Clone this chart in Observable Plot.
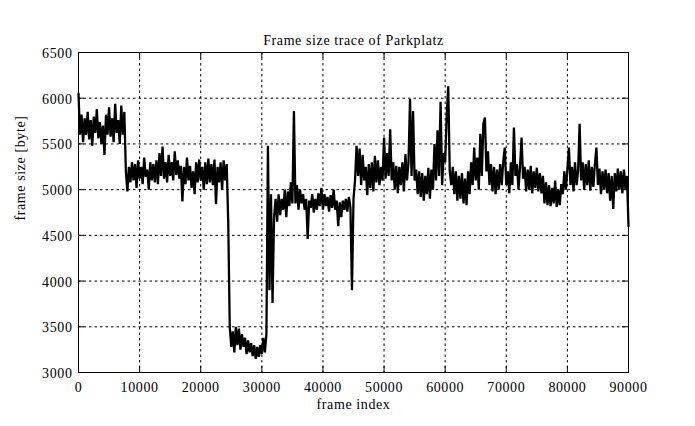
<!DOCTYPE html>
<html>
<head>
<meta charset="utf-8">
<script src="https://cdn.jsdelivr.net/npm/d3@7"></script>
<script src="https://cdn.jsdelivr.net/npm/@observablehq/plot@0.6"></script>
<style>
  html, body { margin: 0; padding: 0; background: white; }
  svg text { letter-spacing: 0.6px; }
</style>
</head>
<body>
<div id="chart"></div>
<script>
// ---- data ----
const titleText = "Frame size trace of Parkplatz";
const xLabel = "frame index";
const yLabel = "frame size [byte]";
const xTicks = [0, 10000, 20000, 30000, 40000, 50000, 60000, 70000, 80000, 90000];
const yTicks = [3000, 3500, 4000, 4500, 5000, 5500, 6000, 6500];
const frameStep = 250; // sampling step of the trace (frames)
const frameSize = [
  6050, 5600, 5820, 5520, 5780, 5600, 5850, 5550, 5760, 5480,
  5800, 5620, 5880, 5560, 5740, 5500, 5700, 5380, 5820, 5600,
  5900, 5580, 5780, 5520, 5940, 5620, 5760, 5500, 5920, 5600,
  5850, 5200, 4980, 5250, 5080, 5300, 5100, 5280, 5020, 5320,
  5120, 5250, 5060, 5350, 5140, 5220, 5000, 5300, 5100, 5280,
  5080, 5320, 5060, 5400, 5150, 5470, 5120, 5300, 5080, 5380,
  5150, 5300, 5100, 5420, 5160, 5320, 5120, 5260, 4870, 5250,
  5060, 5350, 5100, 5260, 5020, 5200, 4950, 5300, 5080, 5330,
  5100, 5250, 5000, 5300, 5060, 5340, 5080, 5280, 5050, 5330,
  4840, 5250, 5080, 5300, 5000, 5320, 5100, 5280, 4650, 3500,
  3280, 3450, 3220, 3500, 3300, 3480, 3250, 3420, 3280, 3380,
  3200, 3350, 3220, 3320, 3180, 3300, 3150, 3280, 3170, 3300,
  3200, 3380, 3220, 3420, 5480, 3900, 4950, 3760, 4700, 4900,
  4650, 4950, 4720, 4900, 4780, 5000, 4700, 4980, 4820, 5080,
  4850, 5860, 4850, 5050, 4780, 5000, 4850, 4950, 4780, 4900,
  4460, 4880, 4800, 4950, 4750, 4900, 4780, 4960, 4820, 5020,
  4780, 4950, 4820, 4920, 4760, 4940, 4800, 5000, 4780, 4880,
  4600, 4860, 4700, 4880, 4780, 4900, 4760, 4920, 4800, 3900,
  4900, 5100, 5480, 5150, 5450, 5050, 5380, 5100, 5250, 4940,
  5280, 5020, 5300, 4980, 5370, 5080, 5320, 5050, 5250, 5100,
  5570, 5120, 5400, 5150, 5660, 5100, 5300, 5000, 5260, 4960,
  5250, 5050, 5300, 4980, 5390, 5100, 5300, 5990, 5150, 5860,
  5100, 5220, 4950, 5200, 4920, 5180, 4880, 5150, 4950, 5240,
  4900, 5220, 5000, 5500, 5100, 5650, 5150, 5960, 5050, 5400,
  5300, 5800, 6130, 5200, 5050, 5250, 4950, 5200, 4880, 5150,
  4900, 5180, 4850, 5120, 4830, 5200, 4950, 5300, 5050, 5460,
  5100, 5350, 5000, 5610, 5150, 5720, 5790, 5200, 5420, 5050,
  5280, 4980, 5250, 4950, 5220, 5000, 5280, 5050, 5300, 5460,
  5050, 5200, 4960, 5300, 5050, 5680, 5150, 5280, 5000, 5250,
  5570, 5120, 5250, 4980, 5220, 5000, 5260, 4960, 5200, 5020,
  5240, 4980, 5180, 4960, 5150, 4850, 5080, 4830, 5050, 4820,
  5020, 4850, 5100, 4810, 5000, 4830, 5060, 4950, 5200, 5000,
  5220, 5460, 5050, 5250, 4980, 5300, 5050, 5200, 5720, 5100,
  5300, 5000, 5280, 5050, 5320, 4990, 5250, 5030, 5280, 5460,
  5050, 5230, 4950, 5200, 5000, 5220, 4960, 5180, 4880, 5150,
  4790, 5180, 4980, 5230, 5000, 5200, 4960, 5220, 5000, 5150,
  4600
];

// ---- table for the library ----
const trace = frameSize.map((v, i) => ({frame: i * frameStep, size: v}));

const FONT = "'Liberation Serif', 'DejaVu Serif', serif";

const chart = Plot.plot({
  width: 695,
  height: 426,
  marginLeft: 78,
  marginRight: 67,
  marginTop: 52,
  marginBottom: 54,
  style: {fontFamily: FONT, fontSize: "14px", background: "white", color: "black"},
  x: {domain: [0, 90000]},
  y: {domain: [3000, 6500]},
  marks: [
    // dotted grid
    Plot.gridX(xTicks.slice(1, -1), {stroke: "black", strokeOpacity: 1, strokeWidth: 1, strokeDasharray: "2.5,3"}),
    Plot.gridY(yTicks.slice(1, -1), {stroke: "black", strokeOpacity: 1, strokeWidth: 1, strokeDasharray: "2.5,3"}),
    // inward tick marks on all four sides
    Plot.tickX(xTicks, {x: d => d, stroke: "black", insetTop: 314}),
    Plot.tickX(xTicks, {x: d => d, stroke: "black", insetBottom: 314}),
    Plot.tickY(yTicks, {y: d => d, stroke: "black", insetRight: 544}),
    Plot.tickY(yTicks, {y: d => d, stroke: "black", insetLeft: 544}),
    // tick labels
    Plot.axisX(xTicks, {anchor: "bottom", tickSize: 0, tickPadding: 10, label: null, fontSize: 14, tickFormat: d => String(d)}),
    Plot.axisY(yTicks, {anchor: "left", tickSize: 0, tickPadding: 6, label: null, fontSize: 14, dy: 1, tickFormat: d => String(d)}),
    // data trace
    Plot.line(trace, {x: "frame", y: "size", stroke: "black", strokeWidth: 2.3, strokeLinejoin: "miter", strokeMiterlimit: 2}),
    // frame
    Plot.frame({stroke: "black", strokeWidth: 1}),
    // titles
    Plot.text([titleText], {frameAnchor: "top", dy: -17, fontSize: 14, fill: "black"}),
    Plot.text([xLabel], {frameAnchor: "bottom", dy: 36, fontSize: 14, fill: "black"}),
    Plot.text([yLabel], {frameAnchor: "left", dx: -58, dy: 8, rotate: -90, fontSize: 14, fill: "black"})
  ]
});
document.getElementById("chart").appendChild(chart);
</script>
</body>
</html>
